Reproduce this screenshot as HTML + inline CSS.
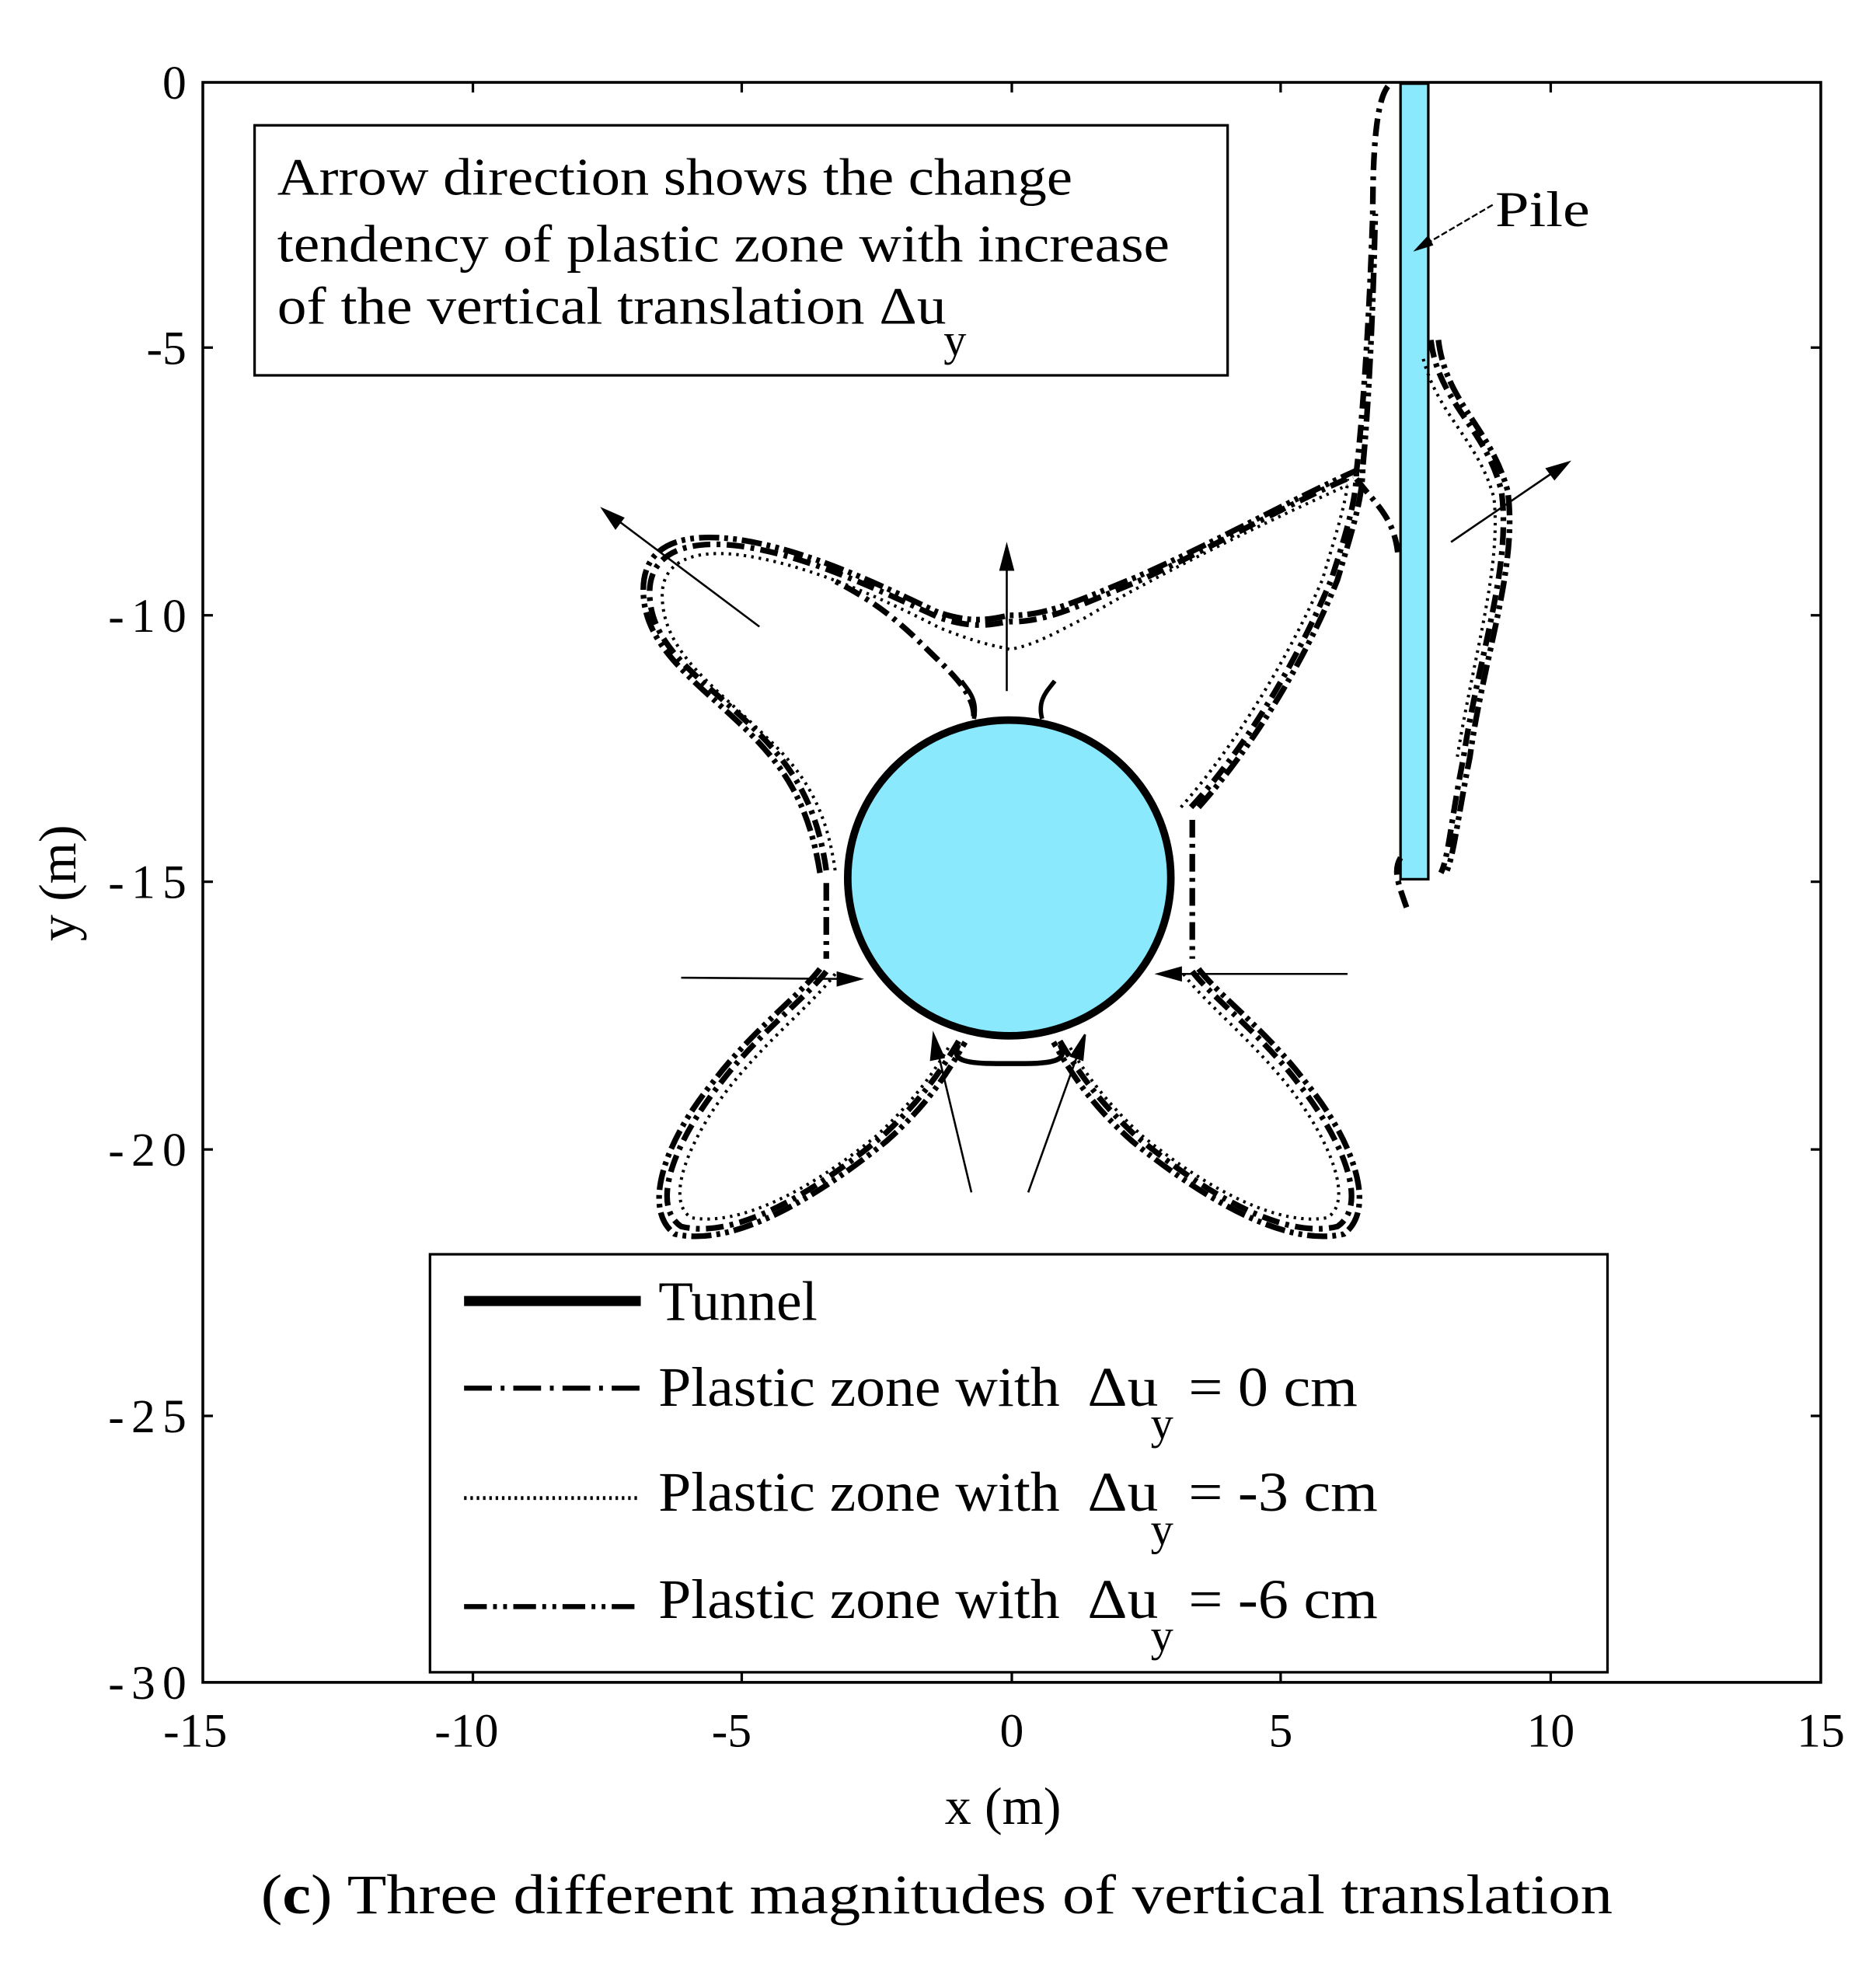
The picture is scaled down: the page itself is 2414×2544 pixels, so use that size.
<!DOCTYPE html>
<html><head><meta charset="utf-8"><style>
html,body{margin:0;padding:0;background:#fff;}
svg{display:block;}
text{font-family:"Liberation Serif",serif;fill:#000;}
</style></head><body>
<svg width="2414" height="2544" viewBox="0 0 2414 2544" xmlns="http://www.w3.org/2000/svg">
<g transform="translate(261,106) scale(1.624,1.625) translate(-161,-66)">
<rect x="161" y="66" width="1282" height="1267" fill="none" stroke="#000" stroke-width="2.2"/>
<g stroke="#000" stroke-width="2">
<line x1="375" y1="1333" x2="375" y2="1325"/><line x1="588" y1="1333" x2="588" y2="1325"/><line x1="802" y1="1333" x2="802" y2="1325"/><line x1="1015" y1="1333" x2="1015" y2="1325"/><line x1="1229" y1="1333" x2="1229" y2="1325"/>
<line x1="375" y1="66" x2="375" y2="74"/><line x1="588" y1="66" x2="588" y2="74"/><line x1="802" y1="66" x2="802" y2="74"/><line x1="1015" y1="66" x2="1015" y2="74"/><line x1="1229" y1="66" x2="1229" y2="74"/>
<line x1="161" y1="276" x2="169" y2="276"/><line x1="161" y1="488" x2="169" y2="488"/><line x1="161" y1="699" x2="169" y2="699"/><line x1="161" y1="911" x2="169" y2="911"/><line x1="161" y1="1122" x2="169" y2="1122"/>
<line x1="1443" y1="276" x2="1435" y2="276"/><line x1="1443" y1="488" x2="1435" y2="488"/><line x1="1443" y1="699" x2="1435" y2="699"/><line x1="1443" y1="911" x2="1435" y2="911"/><line x1="1443" y1="1122" x2="1435" y2="1122"/>
</g>
<g font-size="38" text-anchor="end">
<text x="148" y="79">0</text><text x="148" y="289">-5</text><text x="148" y="501" textLength="62">-10</text><text x="148" y="712" textLength="62">-15</text><text x="148" y="924" textLength="62">-20</text><text x="148" y="1135" textLength="62">-25</text><text x="148" y="1346" textLength="62">-30</text>
</g>
<g font-size="38" text-anchor="middle">
<text x="155" y="1384">-15</text><text x="370" y="1384">-10</text><text x="580" y="1384">-5</text><text x="802" y="1384">0</text><text x="1015" y="1384">5</text><text x="1229" y="1384">10</text><text x="1443" y="1384">15</text>
<text x="795" y="1445" font-size="42">x (m)</text>
<text transform="translate(60,700) rotate(-90)" font-size="42">y (m)</text>
</g>
<text x="207" y="1516" font-size="44" textLength="1071" lengthAdjust="spacingAndGlyphs">(<tspan font-weight="bold">c</tspan>) Three different magnitudes of vertical translation</text>

<rect x="202" y="100" width="771" height="198" fill="#fff" stroke="#000" stroke-width="2"/>
<g font-size="42">
<text x="220" y="155" textLength="630" lengthAdjust="spacingAndGlyphs">Arrow direction shows the change</text>
<text x="220" y="208" textLength="707" lengthAdjust="spacingAndGlyphs">tendency of plastic zone with increase</text>
<text x="220" y="257" textLength="530" lengthAdjust="spacingAndGlyphs">of the vertical translation Δu</text>
<text x="748" y="282" font-size="36">y</text>
</g>

<rect x="1110" y="67" width="22" height="630" fill="#8be9fd" stroke="#000" stroke-width="2"/>
<text x="1185" y="180" font-size="40" textLength="75" lengthAdjust="spacingAndGlyphs">Pile</text>
<line x1="1183" y1="163" x2="1125" y2="197" stroke="#000" stroke-width="1.5" stroke-dasharray="5,2"/>
<polygon points="1120,200 1132,187 1136,195" fill="#000"/>

<g fill="none" stroke="#000" stroke-linecap="butt">
<g stroke-width="4.5" stroke-dasharray="14,5,3,5">
<path d="M655,690 C648,640 630,610 600,580 C560,540 515,515 515,470 C515,438 545,428 585,433 C640,440 700,470 745,490 C775,500 790,494 800,493 C830,494 860,478 900,462 C960,435 1020,400 1072,378"/>
<path d="M772,568 C772,548 750,530 735,515 C710,490 690,475 660,460"/>
<path d="M944,640 C990,590 1030,520 1055,460 C1068,420 1075,395 1075,375 C1080,330 1085,260 1088,170 C1088,110 1092,75 1102,67"/>
<path d="M1075,380 C1090,400 1105,410 1108,440"/>
<path d="M1134,270 C1140,320 1178,340 1190,390 C1198,450 1172,520 1160,600 C1150,650 1148,680 1142,692"/>
<path d="M1110,680 C1104,690 1108,700 1115,720"/>
<path d="M655,770 C640,790 600,820 570,860 C535,905 515,955 540,972 C580,982 640,950 700,900 C730,872 745,850 760,825"/>
<path d="M945,770 C960,790 1000,820 1030,860 C1065,905 1085,955 1060,972 C1020,982 960,950 900,900 C870,872 855,850 840,825"/>
<path d="M945,650 L945,760 M655,700 L655,760"/>
</g>
<g stroke-width="2.5" stroke-dasharray="2,4">
<path d="M662,690 C655,640 637,612 607,584 C568,545 525,518 525,472 C525,445 550,436 585,440 C640,447 700,475 745,498 C780,512 790,512 800,515 C820,512 840,500 860,490 C910,460 990,420 1068,385"/>
<path d="M936,640 C980,590 1022,520 1048,460 C1060,420 1068,395 1068,380"/>
<path d="M1128,285 C1140,330 1172,350 1184,395 C1190,450 1168,520 1155,600"/>
<path d="M662,772 C645,795 610,822 578,862 C545,905 527,952 548,965 C585,972 640,945 695,900 C725,872 740,850 752,830"/>
<path d="M938,772 C955,795 990,822 1022,862 C1055,905 1073,952 1052,965 C1015,972 960,945 905,900 C875,872 860,850 848,830"/>
</g>
<g stroke-width="4.5" stroke-dasharray="16,4,3,4,3,4">
<path d="M650,692 C642,642 625,612 595,582 C555,542 510,515 510,468 C510,432 540,422 585,428 C640,436 700,465 742,485 C772,496 790,490 800,488 C830,489 860,474 900,458 C960,432 1020,398 1078,372"/>
<path d="M950,640 C995,590 1036,520 1060,460 C1072,420 1080,395 1080,372 C1084,330 1088,260 1090,170"/>
<path d="M1140,270 C1146,320 1182,340 1195,390 C1203,450 1176,520 1165,600 C1155,650 1152,680 1146,692"/>
<path d="M650,768 C635,788 595,818 565,858 C528,903 508,958 535,978 C578,988 640,955 702,905 C735,876 750,852 765,826"/>
<path d="M950,768 C965,788 1005,818 1035,858 C1072,903 1092,958 1065,978 C1022,988 960,955 898,905 C865,876 850,852 835,826"/>
</g>
<path d="M772,570 C775,555 768,548 762,540 M826,570 C822,555 830,548 836,540" stroke-width="3.5"/>
<path d="M760,828 C755,838 758,843 790,843 L812,843 C842,843 845,838 840,828" stroke-width="4"/>
</g>

<ellipse cx="800" cy="696" rx="128" ry="125" fill="#8be9fd" stroke="#000" stroke-width="6"/>

<g stroke="#000" stroke-width="1.6" fill="#000">
<line x1="602" y1="497" x2="482" y2="407"/><polygon points="478,404 494,411 488,419"/>
<line x1="798" y1="548" x2="798" y2="440"/><polygon points="798,433 793,452 803,452"/>
<line x1="540" y1="775" x2="675" y2="776"/><polygon points="682,776 664,771 664,781"/>
<line x1="1068" y1="772" x2="925" y2="772"/><polygon points="918,772 936,767 936,777"/>
<line x1="770" y1="945" x2="742" y2="828"/><polygon points="740,820 738,840 748,838"/>
<line x1="815" y1="945" x2="857" y2="828"/><polygon points="860,820 849,837 858,840"/>
<line x1="1150" y1="430" x2="1238" y2="370"/><polygon points="1243,367 1226,372 1232,380"/>
</g>

<rect x="341" y="994" width="933" height="331" fill="#fff" stroke="#000" stroke-width="2"/>
<line x1="368" y1="1031" x2="508" y2="1031" stroke="#000" stroke-width="8"/>
<line x1="368" y1="1100" x2="508" y2="1100" stroke="#000" stroke-width="4" stroke-dasharray="22,7,3,7"/>
<line x1="368" y1="1187" x2="508" y2="1187" stroke="#000" stroke-width="3" stroke-dasharray="2,3"/>
<line x1="368" y1="1273" x2="508" y2="1273" stroke="#000" stroke-width="4" stroke-dasharray="18,5,3,5,3,5"/>
<g font-size="44">
<text x="522" y="1046" textLength="126" lengthAdjust="spacingAndGlyphs">Tunnel</text>
<text x="522" y="1114" textLength="318" lengthAdjust="spacingAndGlyphs">Plastic zone with</text><text x="862" y="1114" textLength="56" lengthAdjust="spacingAndGlyphs">Δu</text><text x="912" y="1140" font-size="36">y</text><text x="942" y="1114" textLength="134" lengthAdjust="spacingAndGlyphs">= 0 cm</text>
<text x="522" y="1197" textLength="318" lengthAdjust="spacingAndGlyphs">Plastic zone with</text><text x="862" y="1197" textLength="56" lengthAdjust="spacingAndGlyphs">Δu</text><text x="912" y="1224" font-size="36">y</text><text x="942" y="1197" textLength="150" lengthAdjust="spacingAndGlyphs">= -3 cm</text>
<text x="522" y="1282" textLength="318" lengthAdjust="spacingAndGlyphs">Plastic zone with</text><text x="862" y="1282" textLength="56" lengthAdjust="spacingAndGlyphs">Δu</text><text x="912" y="1308" font-size="36">y</text><text x="942" y="1282" textLength="150" lengthAdjust="spacingAndGlyphs">= -6 cm</text>
</g>
</g>
</svg>
</body></html>
